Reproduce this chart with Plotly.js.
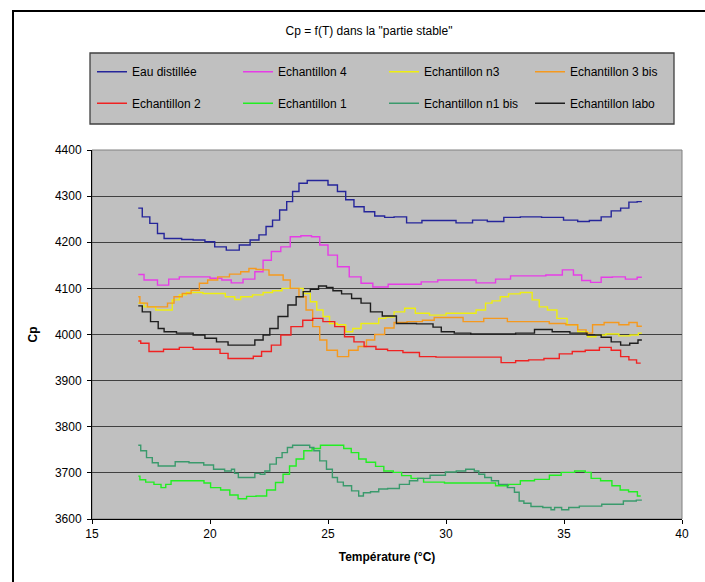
<!DOCTYPE html>
<html>
<head>
<meta charset="utf-8">
<script src="https://cdn.plot.ly/plotly-3.0.1.min.js"></script>
<style>
html,body{margin:0;padding:0;background:#fff;}
#chart{width:705px;height:582px;}
</style>
</head>
<body>
<div id="chart"></div>
<script>
// ---- Data ----
const seriesNames = ["Eau distillée","Echantillon 4","Echantillon n3","Echantillon 3 bis",
                     "Echantillon 2","Echantillon 1","Echantillon n1 bis","Echantillon labo"];

const eauT  = [16.96,17.3,17.6,17.95,18.16,18.6,19.0,19.57,20.0,20.4,20.98,21.5,21.9,22.25,22.5,22.8,23.1,23.4,23.6,23.94,24.3,24.8,25.2,25.6,25.9,26.3,26.76,27.2,27.6,28.0,28.66,29.3,30.0,30.85,31.4,32.1,32.8,33.5,34.6,35.36,35.8,36.35,36.8,37.2,37.6,37.9,38.3];
const eauCp = [4274,4255,4241,4219,4208,4208,4206,4205,4201,4190,4183,4194,4205,4216,4234,4248,4270,4288,4310,4328,4334,4334,4324,4310,4292,4277,4266,4257,4254,4255,4242,4247,4247,4242,4248,4245,4254,4255,4254,4248,4245,4247,4255,4268,4274,4287,4288];

const e4T  = [16.96,17.45,18.1,18.4,19.0,19.7,20.3,20.7,21.1,21.7,22.1,22.4,22.8,23.2,23.6,24.1,24.5,24.8,25.2,25.6,26.2,26.6,27.2,27.9,28.6,29.3,30.0,30.85,31.7,32.5,32.97,33.8,34.66,35.2,35.6,35.9,36.35,36.8,37.3,37.9,38.3];
const e4Cp = [4130,4118,4107,4120,4125,4125,4122,4118,4112,4120,4136,4161,4180,4190,4212,4214,4212,4194,4172,4147,4125,4111,4103,4109,4109,4114,4118,4118,4112,4120,4127,4127,4129,4140,4129,4117,4113,4124,4125,4120,4124];

const en3T  = [16.96,17.45,17.95,18.3,18.5,18.9,19.1,20.3,21.0,21.1,21.5,22.1,22.4,22.9,23.2,23.8,24.1,24.4,24.65,24.93,25.2,25.6,25.9,26.2,26.6,27.0,27.3,27.6,28.0,28.5,28.9,29.7,30.3,31.0,31.55,31.8,32.1,32.5,32.8,33.5,33.8,34.1,34.5,34.9,35.36,35.8,36.2,36.5,37.05,37.6,38.0,38.3];
const en3Cp = [4068,4060,4053,4053,4075,4086,4091,4089,4082,4076,4082,4086,4091,4095,4100,4100,4089,4071,4053,4039,4024,4021,4006,4013,4024,4024,4035,4038,4049,4057,4046,4042,4046,4046,4053,4068,4073,4082,4088,4091,4075,4060,4053,4035,4021,4006,3995,3999,4001,3997,3999,4003];

const e3bT  = [16.96,17.1,17.6,18.1,18.3,18.65,19.0,19.4,19.7,20.1,20.55,21.1,21.5,21.8,22.1,22.4,22.6,23.0,23.2,23.6,23.94,24.2,24.5,24.8,25.1,25.7,26.05,26.5,26.76,27.2,27.6,28.0,28.7,29.3,29.7,30.6,30.85,31.4,31.8,32.4,32.8,33.4,33.95,34.8,35.36,35.8,36.07,36.35,37.05,37.6,37.9,38.3];
const e3bCp = [4082,4068,4060,4060,4068,4082,4089,4096,4111,4118,4125,4131,4136,4143,4141,4140,4129,4129,4118,4100,4082,4053,4017,3988,3966,3952,3966,3974,3988,4000,4014,4026,4028,4031,4037,4037,4028,4028,4035,4035,4028,4028,4028,4024,4021,4010,4003,4021,4026,4021,4026,4018];

const e2T  = [16.96,17.17,17.66,18.4,19.0,19.57,20.3,20.55,20.98,21.7,21.97,22.4,22.8,23.2,23.66,24.2,24.5,25.07,25.5,25.9,26.3,26.76,27.3,27.75,28.6,29.15,30.0,31.97,32.7,33.2,33.8,34.5,35.1,35.6,36.2,36.8,37.2,37.6,37.9,38.25];
const e2Cp = [3986,3981,3963,3968,3972,3968,3968,3959,3948,3948,3953,3963,3977,3999,4017,4031,4035,4028,4017,3995,3984,3974,3968,3965,3961,3952,3951,3951,3939,3943,3945,3948,3958,3963,3966,3972,3966,3952,3945,3938];

const e1T  = [16.96,17.1,17.45,17.8,18.05,18.2,18.5,19.64,19.85,20.2,20.7,20.98,21.4,21.7,22.2,22.6,22.95,23.24,23.5,23.8,24.15,24.5,24.86,25.56,25.77,26.2,26.4,26.83,27.2,27.53,28.0,28.24,28.8,29.3,30.57,31.8,32.4,32.9,33.4,34.1,34.66,35.1,35.8,36.0,36.3,36.8,37.26,37.5,37.97,38.25];
const e1Cp = [3693,3685,3680,3675,3668,3675,3683,3683,3678,3668,3663,3652,3644,3649,3650,3663,3679,3697,3715,3730,3748,3753,3760,3760,3753,3744,3730,3723,3714,3704,3701,3694,3688,3680,3678,3678,3672,3675,3683,3686,3695,3701,3704,3701,3688,3683,3672,3663,3659,3650];

const en1bT  = [16.96,17.17,17.45,17.66,17.95,18.4,18.65,19.57,19.9,20.4,20.84,20.98,21.1,21.3,21.8,22.0,22.25,22.4,22.67,22.95,23.16,23.4,23.6,24.15,24.3,24.5,24.8,25.07,25.3,25.5,25.8,26.2,26.4,26.6,27.0,27.3,27.75,28.3,28.6,29.0,29.65,30.3,30.57,31.1,31.3,31.48,31.8,32.05,32.4,32.8,33.0,33.2,33.4,33.8,34.4,34.5,34.7,35.1,35.3,36.0,37.2,37.83,38.3];
const en1bCp = [3760,3748,3733,3722,3715,3715,3724,3722,3717,3708,3704,3708,3699,3690,3690,3699,3697,3704,3719,3733,3744,3755,3760,3760,3755,3748,3726,3708,3690,3680,3672,3661,3650,3657,3659,3665,3666,3675,3683,3688,3695,3702,3704,3708,3704,3697,3690,3683,3675,3668,3658,3639,3634,3627,3625,3620,3625,3620,3625,3628,3632,3639,3641];

const laboT  = [16.96,17.3,17.66,17.95,18.16,19.0,19.57,20.0,20.55,20.98,21.7,22.1,22.4,22.67,23.1,23.5,23.8,24.1,24.4,24.8,25.07,25.35,25.8,26.2,26.6,27.0,27.6,28.2,29.3,29.6,30.0,30.7,31.4,32.5,33.4,34.1,34.9,35.6,36.35,36.8,37.2,37.6,37.97,38.3];
const laboCp = [4062,4049,4028,4013,4006,4003,3999,3992,3984,3977,3977,3988,3999,4013,4039,4064,4082,4093,4098,4105,4102,4095,4088,4078,4068,4049,4040,4024,4023,4016,4006,4003,4001,4001,4003,4011,4006,4003,3999,3994,3984,3977,3981,3988];

const xTickVals = [15,20,25,30,35,40];
const yTickVals = [3600,3700,3800,3900,4000,4100,4200,4300,4400];

// ---- Styling ----
const FONT = "Liberation Sans, Arial, sans-serif";
const colors = ["#25259A","#E63CE6","#EEEE10","#F5991E","#F02222","#22EE22","#3A9A6C","#1E1E1E"];
const xs  = [eauT,e4T,en3T,e3bT,e2T,e1T,en1bT,laboT];
const ys  = [eauCp,e4Cp,en3Cp,e3bCp,e2Cp,e1Cp,en1bCp,laboCp];

const traces = seriesNames.map((name,i)=>({
  type:"scatter", mode:"lines", name:name,
  x:xs[i], y:ys[i],
  line:{color:colors[i], width:1.4, shape:"hvh"},
  legend: i<4 ? "legend" : "legend2",
  hoverinfo:"skip"
}));

// pixel helpers for paper coordinates
const W=705,H=582, mL=92, mR=23, mT=150, mB=63;
const pw=W-mL-mR, ph=H-mT-mB;
const px=(p)=> (p-mL)/pw;
const py=(p)=> (H-mB-p)/ph;

const legendCommon = {
  orientation:"h", bgcolor:"rgba(0,0,0,0)", borderwidth:0,
  font:{family:FONT,size:12,color:"#000"},
  entrywidth:101, entrywidthmode:"pixels",
  xanchor:"left", yanchor:"middle", itemclick:false, itemdoubleclick:false
};

const layout = {
  width:W, height:H,
  margin:{l:mL,r:mR,t:mT,b:mB,pad:0},
  paper_bgcolor:"#FFFFFF",
  plot_bgcolor:"#C0C0C0",
  font:{family:FONT,size:12,color:"#000"},
  showlegend:true,
  title:{text:'Cp = f(T) dans la "partie stable"', font:{family:FONT,size:12,color:"#000"},
         x:369/W, xanchor:"center", xref:"container", y:1-31/H, yanchor:"middle", yref:"container"},
  xaxis:{
    range:[15,40], tickvals:xTickVals, ticks:"outside", ticklen:4, tickcolor:"#000", tickwidth:1,
    showline:true, linecolor:"#000", linewidth:1, showgrid:false, zeroline:false,
    tickfont:{family:FONT,size:12,color:"#000"},
    title:{text:"Température (°C)", font:{family:FONT,size:12,color:"#000",weight:"bold"}, standoff:12},
    fixedrange:true
  },
  yaxis:{
    range:[3600,4400], tickvals:yTickVals, ticks:"outside", ticklen:4, tickcolor:"#000", tickwidth:1,
    showline:true, linecolor:"#000", linewidth:1, showgrid:true, gridcolor:"#404040", gridwidth:1,
    zeroline:false, ticklabelstandoff:3,
    tickfont:{family:FONT,size:12,color:"#000"},
    title:{text:"Cp", font:{family:FONT,size:12,color:"#000",weight:"bold"}, standoff:14},
    fixedrange:true
  },
  legend: Object.assign({}, legendCommon, {x:px(92), y:py(71.7)}),
  legend2: Object.assign({}, legendCommon, {x:px(92), y:py(103.3)}),
  shapes:[
    // plot area frame (grey top/right edges)
    {type:"rect", xref:"paper", yref:"paper", x0:0, x1:1, y0:0, y1:1,
     line:{color:"#808080", width:1}, fillcolor:"rgba(0,0,0,0)", layer:"below"},
    // legend box
    {type:"rect", xref:"paper", yref:"paper", x0:px(90), x1:px(674), y0:py(124), y1:py(53),
     line:{color:"#404040", width:1.3}, fillcolor:"#C0C0C0", layer:"below"},
    // outer chart frame (top and left)
    {type:"line", xref:"paper", yref:"paper", x0:px(12), x1:px(720), y0:py(11), y1:py(11),
     line:{color:"#000", width:2}},
    {type:"line", xref:"paper", yref:"paper", x0:px(13), x1:px(13), y0:py(11), y1:py(600),
     line:{color:"#000", width:2}}
  ]
};

Plotly.newPlot("chart", traces, layout, {displayModeBar:false, staticPlot:true});
</script>
</body>
</html>
